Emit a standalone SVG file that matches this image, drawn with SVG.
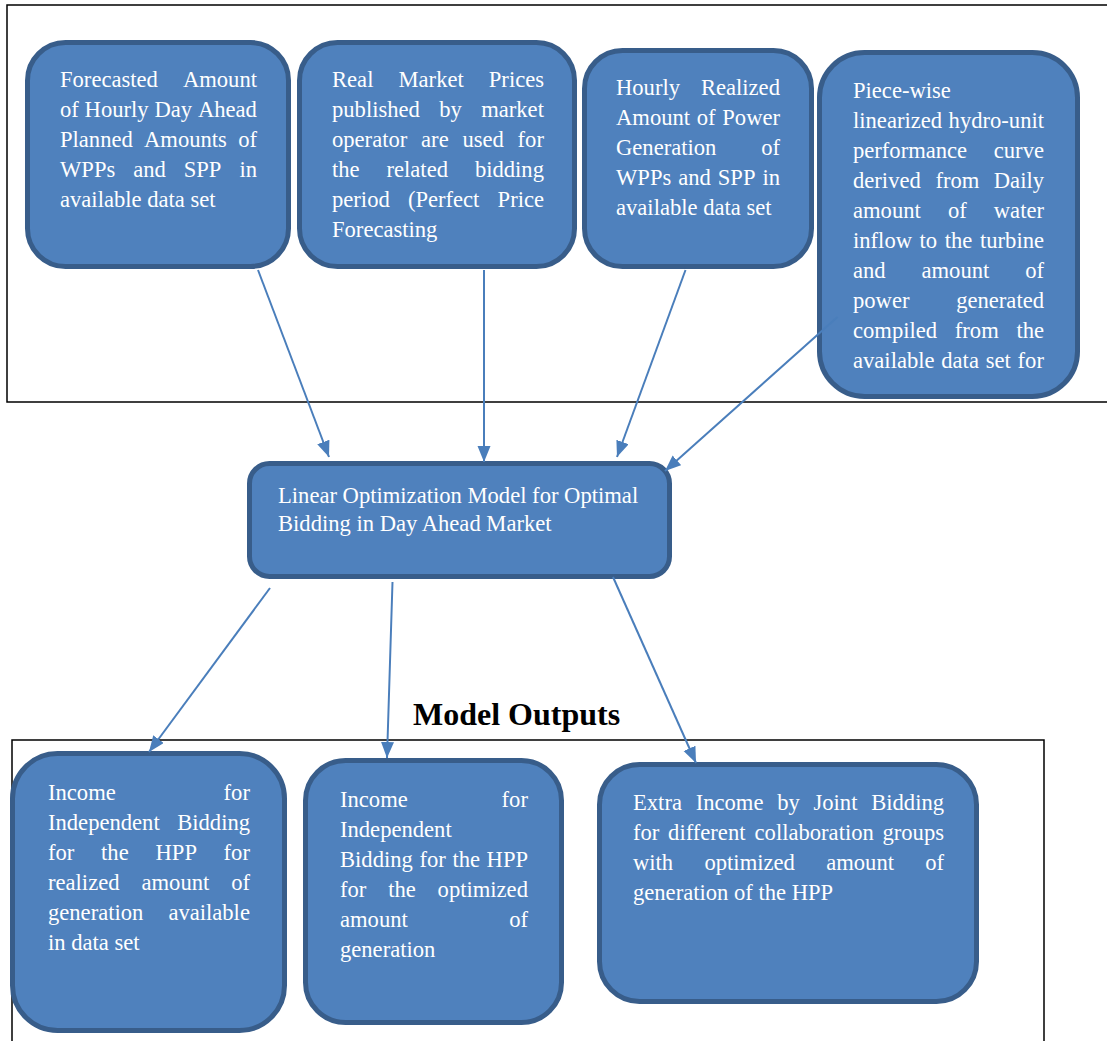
<svg xmlns="http://www.w3.org/2000/svg" width="1107" height="1041" viewBox="0 0 1107 1041">
<style>
.frame{fill:none;stroke:#000;stroke-width:1.5}
.box{fill:#4F81BD;stroke:#385D8A;stroke-width:5}
.t{font-family:"Liberation Serif","Times New Roman",serif;font-size:22.6px;fill:#fff}
.title{font-family:"Liberation Serif","Times New Roman",serif;font-size:32px;font-weight:bold;fill:#000}
.conn{fill:none;stroke:#4A7EBB;stroke-width:2;marker-end:url(#ah)}
</style>
<defs>
<marker id="ah" markerUnits="userSpaceOnUse" markerWidth="17" markerHeight="14" refX="16" refY="6.5" orient="auto">
<path d="M0,0 L16,6.5 L0,13 z" fill="#4A7EBB"/>
</marker>
</defs>
<rect width="1107" height="1041" fill="#fff"/>
<g id="frames">
<path class="frame" d="M1107,5 H7 V402 H1107"/>
<path class="frame" d="M12,1041 V740 H1044 V1041"/>
</g>
<g id="n1">
<rect class="box" x="27.5" y="42.5" width="261" height="224" rx="38"/>
<text class="t" y="87"><tspan x="60">Forecasted</tspan><tspan x="182.9">Amount</tspan></text>
<text class="t" y="117"><tspan x="60">of</tspan><tspan x="84.6">Hourly</tspan><tspan x="154.4">Day</tspan><tspan x="197.9">Ahead</tspan></text>
<text class="t" y="147"><tspan x="60">Planned</tspan><tspan x="144">Amounts</tspan><tspan x="238.2">of</tspan></text>
<text class="t" y="177"><tspan x="60">WPPs</tspan><tspan x="133.2">and</tspan><tspan x="183.7">SPP</tspan><tspan x="239.4">in</tspan></text>
<text class="t" y="207" x="60">available data set</text>
</g>
<g id="n2">
<rect class="box" x="299.5" y="42.5" width="275" height="224" rx="38"/>
<text class="t" y="87"><tspan x="332">Real</tspan><tspan x="398.5">Market</tspan><tspan x="488.8">Prices</tspan></text>
<text class="t" y="117"><tspan x="332">published</tspan><tspan x="439.3">by</tspan><tspan x="481.2">market</tspan></text>
<text class="t" y="147"><tspan x="332">operator</tspan><tspan x="421.1">are</tspan><tspan x="462.5">used</tspan><tspan x="517.6">for</tspan></text>
<text class="t" y="177"><tspan x="332">the</tspan><tspan x="386.5">related</tspan><tspan x="474.9">bidding</tspan></text>
<text class="t" y="207"><tspan x="332">period</tspan><tspan x="407.9">(Perfect</tspan><tspan x="497.6">Price</tspan></text>
<text class="t" y="237" x="332">Forecasting</text>
</g>
<g id="n3">
<rect class="box" x="584.5" y="50.5" width="227" height="216" rx="38"/>
<text class="t" y="95"><tspan x="616">Hourly</tspan><tspan x="700.9">Realized</tspan></text>
<text class="t" y="125"><tspan x="616">Amount</tspan><tspan x="696.8">of</tspan><tspan x="722.3">Power</tspan></text>
<text class="t" y="155"><tspan x="616">Generation</tspan><tspan x="761.2">of</tspan></text>
<text class="t" y="185"><tspan x="616">WPPs</tspan><tspan x="678.2">and</tspan><tspan x="717.8">SPP</tspan><tspan x="762.4">in</tspan></text>
<text class="t" y="215" x="616">available data set</text>
</g>
<g id="n4">
<rect class="box" x="819.5" y="52.5" width="258" height="344" rx="45"/>
<text class="t" y="98" x="853">Piece-wise</text>
<text class="t" y="128"><tspan x="853">linearized</tspan><tspan x="948.6">hydro-unit</tspan></text>
<text class="t" y="158"><tspan x="853">performance</tspan><tspan x="993.8">curve</tspan></text>
<text class="t" y="188"><tspan x="853">derived</tspan><tspan x="935.4">from</tspan><tspan x="993.8">Daily</tspan></text>
<text class="t" y="218"><tspan x="853">amount</tspan><tspan x="947.9">of</tspan><tspan x="993.8">water</tspan></text>
<text class="t" y="248"><tspan x="853">inflow</tspan><tspan x="919.6">to</tspan><tspan x="944.8">the</tspan><tspan x="980">turbine</tspan></text>
<text class="t" y="278"><tspan x="853">and</tspan><tspan x="921.5">amount</tspan><tspan x="1025.2">of</tspan></text>
<text class="t" y="308"><tspan x="853">power</tspan><tspan x="956.2">generated</tspan></text>
<text class="t" y="338"><tspan x="853">compiled</tspan><tspan x="954.8">from</tspan><tspan x="1016.4">the</tspan></text>
<text class="t" y="368"><tspan x="853">available</tspan><tspan x="941.3">data</tspan><tspan x="985.7">set</tspan><tspan x="1017.6">for</tspan></text>
</g>
<g id="n5">
<rect class="box" x="249.5" y="463.5" width="420" height="113" rx="20"/>
<text class="t" y="503" x="278">Linear Optimization Model for Optimal</text>
<text class="t" y="531" x="278">Bidding in Day Ahead Market</text>
</g>
<g id="title">
<text class="title" x="413" y="725">Model Outputs</text>
</g>
<g id="n6">
<rect class="box" x="12.5" y="753.5" width="272" height="277" rx="45"/>
<text class="t" y="800"><tspan x="48">Income</tspan><tspan x="223.6">for</tspan></text>
<text class="t" y="830"><tspan x="48">Independent</tspan><tspan x="177.2">Bidding</tspan></text>
<text class="t" y="860"><tspan x="48">for</tspan><tspan x="101.1">the</tspan><tspan x="155.5">HPP</tspan><tspan x="223.6">for</tspan></text>
<text class="t" y="890"><tspan x="48">realized</tspan><tspan x="141.5">amount</tspan><tspan x="231.2">of</tspan></text>
<text class="t" y="920"><tspan x="48">generation</tspan><tspan x="168.4">available</tspan></text>
<text class="t" y="950" x="48">in data set</text>
</g>
<g id="n7">
<rect class="box" x="305.5" y="760.5" width="256" height="262" rx="40"/>
<text class="t" y="807"><tspan x="340">Income</tspan><tspan x="501.6">for</tspan></text>
<text class="t" y="837" x="340">Independent</text>
<text class="t" y="867"><tspan x="340">Bidding</tspan><tspan x="419.4">for</tspan><tspan x="452.4">the</tspan><tspan x="486.6">HPP</tspan></text>
<text class="t" y="897"><tspan x="340">for</tspan><tspan x="388.2">the</tspan><tspan x="437.6">optimized</tspan></text>
<text class="t" y="927"><tspan x="340">amount</tspan><tspan x="509.2">of</tspan></text>
<text class="t" y="957" x="340">generation</text>
</g>
<g id="n8">
<rect class="box" x="599.5" y="764.5" width="377" height="237" rx="40"/>
<text class="t" y="810"><tspan x="633">Extra</tspan><tspan x="695.7">Income</tspan><tspan x="777.2">by</tspan><tspan x="813.5">Joint</tspan><tspan x="871.2">Bidding</tspan></text>
<text class="t" y="840"><tspan x="633">for</tspan><tspan x="668.1">different</tspan><tspan x="754.6">collaboration</tspan><tspan x="882.5">groups</tspan></text>
<text class="t" y="870"><tspan x="633">with</tspan><tspan x="704.5">optimized</tspan><tspan x="826.2">amount</tspan><tspan x="925.2">of</tspan></text>
<text class="t" y="900" x="633">generation of the HPP</text>
</g>
<g id="connectors">
<line class="conn" x1="258" y1="270" x2="329" y2="457"/>
<line class="conn" x1="484" y1="270" x2="484" y2="462"/>
<line class="conn" x1="685.5" y1="270" x2="617" y2="457"/>
<line class="conn" x1="837.5" y1="317" x2="665" y2="471"/>
<line class="conn" x1="270" y1="588" x2="149" y2="752"/>
<line class="conn" x1="392.5" y1="582" x2="387" y2="758"/>
<line class="conn" x1="613" y1="577" x2="696" y2="763"/>
</g>
</svg>
